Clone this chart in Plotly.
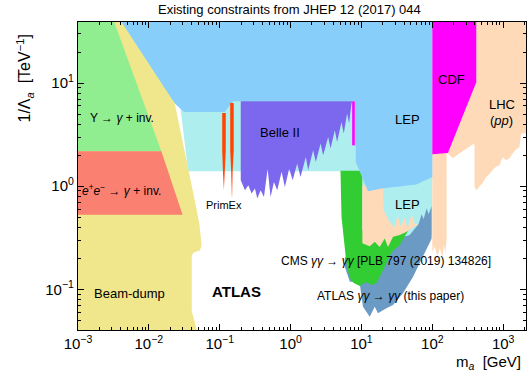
import plotly.graph_objects as go

# ---------------- data: mass m_a [GeV], coupling 1/Lambda_a [TeV^-1] ----------------
X_MIN, X_MAX = 1e-3, 2100.0
Y_MIN, Y_MAX = 0.0404, 39.1

# LEP (e+e- -> gamma gamma, lower / paleturquoise)
lep2_m = [0.02, 100, 100, 10.3, 10.3, 0.0358]
lep2_c = [39.1, 39.1, 0.333, 0.333, 1.40, 1.40]

# ATLAS gamma gamma -> gamma gamma (this paper)
atlas_m = [5.82, 5.82, 6.84, 9.46, 10.5, 13.1, 15.4, 17.1, 22.5, 27.9, 38.5, 53.3, 66.2, 82.3,
           97.7, 97.7, 97.7, 88.7, 83.2, 75.4, 70.6, 64.1, 47.9, 25.0, 9.46]
atlas_c = [0.201, 0.166, 0.119, 0.114, 0.0679, 0.0543, 0.0679, 0.0586, 0.0655, 0.0705, 0.0915,
           0.132, 0.179, 0.240, 0.31, 0.375, 0.640, 0.536, 0.612, 0.480, 0.536, 0.429, 0.336,
           0.300, 0.300]

# CMS gamma gamma -> gamma gamma
cms_m = [5.06, 10.3, 10.3, 47.9, 34.6, 26.7, 21.3, 16.3, 14.0, 11.5, 9.46, 7.79, 6.84, 6.11, 5.23]
cms_c = [1.41, 1.41, 0.375, 0.392, 0.268, 0.230, 0.166, 0.115, 0.110, 0.118, 0.108, 0.115,
         0.129, 0.184, 0.504]

# LHC (pp): middle piece, strip below CDF, high-mass piece
lhc1_m = [10.3, 19.95, 20.6, 25.0, 29.5, 32.4, 35.8, 40.7, 44.9, 51.1, 56.3, 64.1, 50.6, 43.0,
          34.6, 27.9, 23.7, 21.3, 18.1, 15.4, 13.1, 10.5, 10.3]
lhc1_c = [1.02, 1.02, 0.586, 0.449, 0.401, 0.524, 0.410, 0.490, 0.392, 0.536, 0.429, 0.429,
          0.390, 0.359, 0.336, 0.323, 0.258, 0.312, 0.258, 0.289, 0.262, 0.279, 0.280]
lhc2_m = [100, 159, 159, 152, 146, 139, 128, 118, 108, 100]
lhc2_c = [2.2, 2.2, 0.30, 0.22, 0.27, 0.205, 0.25, 0.21, 0.26, 0.23]
lhc3_m = [159, 2100, 2100, 1795, 1698, 1490, 1365, 1226, 1102, 977, 887, 796, 706, 641, 576,
          511, 463, 421, 394, 394, 373, 193, 159]
lhc3_c = [39.1, 39.1, 3.26, 3.24, 2.40, 2.23, 2.07, 1.87, 1.79, 1.91, 1.60, 1.54, 1.43, 1.31,
          1.23, 1.07, 1.00, 0.915, 0.985, 2.55, 2.55, 1.87, 2.13]

# LEP (upper, lightskyblue)
lep1_m = [3.5e-3, 100, 100, 59.5, 19.1, 12.4, 8.31, 8.31, 8.1, 8.1, 0.154, 0.1175, 0.0314, 0.0232]
lep1_c = [39.1, 39.1, 1.23, 1.04, 0.950, 0.895, 1.72, 2.49, 2.49, 6.65, 6.65, 5.24, 5.24, 6.32]

# Beam-dump
bd_m = [1e-3, 4.11e-3, 0.0232, 0.0385, 0.0453, 0.0519, 0.0554, 0.0528, 0.0421, 0.0403, 0.0403,
        0.0474, 1e-3]
bd_c = [39.1, 39.1, 6.32, 1.23, 0.684, 0.419, 0.268, 0.240, 0.227, 0.210, 0.0617, 0.0404, 0.0404]

# Upsilon -> gamma + inv.
ups_m = [1e-3, 3.24e-3, 0.0150, 1e-3]
ups_c = [39.1, 39.1, 2.18, 2.18]

# e+e- -> gamma + inv.
ee_m = [1e-3, 0.0150, 0.0299, 1e-3]
ee_c = [2.18, 2.18, 0.530, 0.530]

# PrimEx (two spikes)
prim1_m = [0.1084, 0.1216, 0.1216, 0.118, 0.1155, 0.1145, 0.111, 0.1084]
prim1_c = [5.13, 5.13, 2.23, 1.40, 0.92, 0.92, 1.40, 2.23]
prim2_m = [0.1406, 0.1574, 0.1574, 0.152, 0.1495, 0.1485, 0.145, 0.1406]
prim2_c = [6.40, 6.40, 2.23, 1.40, 0.787, 0.787, 1.40, 2.23]

# Belle II
belle_m = [0.198, 7.47, 7.23, 6.69, 6.27, 5.63, 5.23, 4.53, 4.21, 3.66, 3.39, 2.88, 2.65, 2.27,
           2.08, 1.77, 1.64, 1.38, 1.24, 1.07, 0.955, 0.831, 0.747, 0.648, 0.582, 0.522, 0.474,
           0.421, 0.378, 0.339, 0.314, 0.282, 0.253, 0.227, 0.198]
belle_c = [6.65, 6.65, 6.32, 4.05, 5.06, 3.24, 4.19, 2.68, 3.48, 2.32, 3.00, 2.00, 2.59, 1.72,
           2.23, 1.43, 1.92, 1.23, 1.66, 1.14, 1.48, 0.984, 1.38, 0.915, 1.10, 0.788, 1.48,
           0.788, 0.915, 0.760, 0.950, 0.850, 1.02, 0.915, 1.14]

# small magenta strip at Belle II edge
mag_m = [7.4, 8.05, 8.05, 7.4]
mag_c = [6.65, 6.65, 2.49, 2.49]

# CDF
cdf_m = [100, 417, 417, 166, 100]
cdf_c = [39.1, 39.1, 10.2, 2.10, 2.04]

x_major = [1e-3, 1e-2, 1e-1, 1, 10, 100, 1000]
x_major_text = ["10<sup>−3</sup>", "10<sup>−2</sup>", "10<sup>−1</sup>", "10<sup>0</sup>",
                "10<sup>1</sup>", "10<sup>2</sup>", "10<sup>3</sup>"]
y_major = [0.1, 1, 10]
y_major_text = ["10<sup>−1</sup>", "10<sup>0</sup>", "10<sup>1</sup>"]

# ---------------- figure ----------------
regions = [
    (lep2_m, lep2_c, "#AFEEEE"),
    (atlas_m, atlas_c, "rgb(107,155,196)"),
    (cms_m, cms_c, "#32CD32"),
    (lhc1_m, lhc1_c, "#FFDAB9"),
    (lhc2_m, lhc2_c, "#FFDAB9"),
    (lhc3_m, lhc3_c, "#FFDAB9"),
    (lep1_m, lep1_c, "#87CEFA"),
    (bd_m, bd_c, "#F0E68C"),
    (ups_m, ups_c, "#90EE90"),
    (ee_m, ee_c, "#FA8072"),
    (prim1_m, prim1_c, "#FF4500"),
    (prim2_m, prim2_c, "#FF4500"),
    (belle_m, belle_c, "#7B68EE"),
    (mag_m, mag_c, "#FF00FF"),
    (cdf_m, cdf_c, "#FF00FF"),
]

fig = go.Figure()
for xs, ys, col in regions:
    fig.add_trace(go.Scatter(x=xs, y=ys, mode="lines", fill="toself", fillcolor=col,
                             line=dict(width=0, color=col), hoverinfo="skip",
                             showlegend=False))

FONT = "Liberation Sans, Arial, Helvetica, sans-serif"

x_minor = [d * 10 ** k for k in range(-3, 4) for d in range(2, 10) if d * 10 ** k < X_MAX]
y_minor = [d * 10 ** k for k in range(-2, 2) for d in range(2, 10)
           if Y_MIN < d * 10 ** k < Y_MAX]

axis_common = dict(type="log", showgrid=False, zeroline=False, showline=True,
                   linecolor="black", linewidth=1.2, mirror="ticks", ticks="inside",
                   ticklen=6, tickwidth=1, tickcolor="black",
                   tickfont=dict(family=FONT, size=15, color="black"))

fig.update_xaxes(range=[-3, 3.322], tickvals=x_major, ticktext=x_major_text,
                 minor=dict(tickvals=x_minor, ticks="inside", ticklen=3, tickcolor="black"),
                 **axis_common)
fig.update_yaxes(range=[-1.394, 1.592], tickvals=y_major, ticktext=y_major_text,
                 minor=dict(tickvals=y_minor, ticks="inside", ticklen=3, tickcolor="black"),
                 **axis_common)

def label(text, x, y, size=12, xanchor="center", yanchor="middle", **kw):
    fig.add_annotation(text=text, x=x, y=y, xref="paper", yref="paper", showarrow=False,
                       xanchor=xanchor, yanchor=yanchor,
                       font=dict(family=FONT, size=size, color="black"), **kw)

label("Existing constraints from JHEP 12 (2017) 044", 0.473, 1.04, size=13)
label("Υ → <i>γ</i> + inv.", 0.022, 0.687, xanchor="left")
label("<i>e</i><sup>+</sup><i>e</i><sup>−</sup> → <i>γ</i> + inv.", 0.004, 0.454, xanchor="left")
label("Beam-dump", 0.031, 0.117, size=13, xanchor="left")
label("<b>ATLAS</b>", 0.294, 0.126, size=15, xanchor="left")
label("PrimEx", 0.326, 0.405, size=11)
label("Belle II", 0.451, 0.642, size=13)
label("LEP", 0.7355, 0.684, size=13)
label("LEP", 0.7355, 0.408, size=13)
label("CDF", 0.8337, 0.8136, size=13)
label("LHC", 0.9464, 0.7326, size=13)
label("(<i>pp</i>)", 0.9464, 0.681, size=13)
label("CMS <i>γγ</i> → <i>γγ</i> [PLB 797 (2019) 134826]", 0.4487, 0.2237, xanchor="left")
label("ATLAS <i>γγ</i> → <i>γγ</i> (this paper)", 0.529, 0.110, xanchor="left")
label("m<sub><i>a</i></sub>  [GeV]", 0.993, -0.104, size=15, xanchor="right")
label("1/Λ<sub><i>a</i></sub>  [TeV<sup>−1</sup>]", -0.118, 0.817, size=16, textangle=-90)

fig.update_layout(width=532, height=380, margin=dict(l=78, r=6, t=22, b=50),
                  plot_bgcolor="white", paper_bgcolor="white", showlegend=False)

fig.write_html("out.html", config={"displayModeBar": False},
               post_script="document.body.style.margin='0';")
